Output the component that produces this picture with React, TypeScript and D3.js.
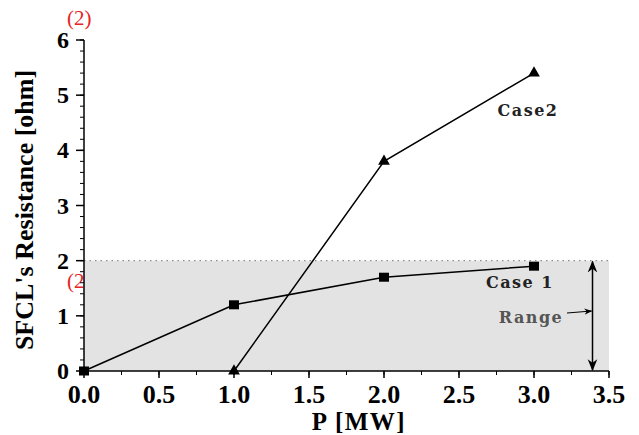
import React from "react";
import * as d3 from "d3";

const case1X = [0, 1, 2, 3];
const case1Y = [0, 1.2, 1.7, 1.9];
const case2X = [1, 2, 3];
const case2Y = [0, 3.8, 5.4];
const xTicks = [0, 0.5, 1, 1.5, 2, 2.5, 3, 3.5];
const yTicks = [0, 1, 2, 3, 4, 5, 6];
const rangeTop = 2;
const rangeX = 3.39;

const W = 639;
const H = 435;
const serif = "'Liberation Serif', 'Times New Roman', serif";
const book = "'DejaVu Serif', 'Liberation Serif', serif";

export default function App() {
  const x = d3.scaleLinear().domain([0, 3.5]).range([84, 609]);
  const y = d3.scaleLinear().domain([0, 6]).range([371, 40]);

  const line = d3
    .line<[number, number]>()
    .x((d) => x(d[0]))
    .y((d) => y(d[1]));

  const c1 = case1X.map((v, i) => [v, case1Y[i]] as [number, number]);
  const c2 = case2X.map((v, i) => [v, case2Y[i]] as [number, number]);

  const xMinor = d3.range(0, 3.5001, 0.25);
  const yMinor = d3.range(0, 6.0001, 0.2);
  const tri = d3.symbol().type(d3.symbolTriangle).size(60)();

  return (
    <svg
      width={W}
      height={H}
      style={{ position: "absolute", left: 0, top: 0, background: "#fff" }}
    >
      <defs>
        <marker id="ah" viewBox="0 0 10 10" refX="9" refY="5" markerWidth="8" markerHeight="8" orient="auto-start-reverse">
          <path d="M0,1 L10,5 L0,9 L3,5 Z" fill="#000" />
        </marker>
      </defs>

      <text x={67} y={25} fill="#e8231f" fontFamily={serif} fontSize={21}>(2)</text>
      <text x={67} y={288} fill="#e8231f" fontFamily={serif} fontSize={21}>(2</text>

      {/* range band */}
      <rect x={x(0)} y={y(rangeTop)} width={x(3.5) - x(0)} height={y(0) - y(rangeTop)} fill="#e3e3e3" />
      <line x1={x(0)} x2={x(3.5)} y1={y(rangeTop)} y2={y(rangeTop)} stroke="#777" strokeDasharray="1.5,4" />

      {/* axes */}
      <line x1={x(0)} x2={x(0)} y1={y(0)} y2={y(6)} stroke="#000" strokeWidth={1.5} />
      <line x1={x(0)} x2={x(3.5)} y1={y(0)} y2={y(0)} stroke="#000" strokeWidth={1.5} />
      {yMinor.map((t, i) => (
        <line key={"ym" + i} x1={x(0) - 4} x2={x(0)} y1={y(t)} y2={y(t)} stroke="#000" />
      ))}
      {yTicks.map((t) => (
        <g key={"y" + t}>
          <line x1={x(0) - 8} x2={x(0)} y1={y(t)} y2={y(t)} stroke="#000" strokeWidth={1.5} />
          <text x={x(0) - 15} y={y(t) + 8} textAnchor="end" fontFamily={serif} fontWeight="bold" fontSize={24}>{t}</text>
        </g>
      ))}
      {xMinor.map((t, i) => (
        <line key={"xm" + i} x1={x(t)} x2={x(t)} y1={y(0)} y2={y(0) + 4} stroke="#000" />
      ))}
      {xTicks.map((t) => (
        <g key={"x" + t}>
          <line x1={x(t)} x2={x(t)} y1={y(0)} y2={y(0) + 7} stroke="#000" strokeWidth={1.5} />
          <text x={x(t)} y={403} textAnchor="middle" fontFamily={serif} fontWeight="bold" fontSize={26}>{t.toFixed(1)}</text>
        </g>
      ))}

      <text x={359} y={430} textAnchor="middle" fontFamily={serif} fontWeight="bold" fontSize={25} letterSpacing={1.5}>P [MW]</text>
      <text transform="translate(33,210) rotate(-90)" textAnchor="middle" fontFamily={serif} fontWeight="bold" fontSize={26}>SFCL's Resistance [ohm]</text>

      {/* series */}
      <path d={line(c1) ?? ""} fill="none" stroke="#000" strokeWidth={1.5} />
      <path d={line(c2) ?? ""} fill="none" stroke="#000" strokeWidth={1.5} />
      {c1.map((d, i) => (
        <rect key={"s" + i} x={x(d[0]) - 5} y={y(d[1]) - 4.5} width={10} height={9} fill="#000" />
      ))}
      {c2.map((d, i) => (
        <path key={"t" + i} d={tri ?? ""} transform={`translate(${x(d[0])},${y(d[1])})`} fill="#000" />
      ))}

      {/* range arrow */}
      <line x1={x(rangeX)} x2={x(rangeX)} y1={y(rangeTop) + 1} y2={y(0) - 1} stroke="#000" strokeWidth={1.5} markerStart="url(#ah)" markerEnd="url(#ah)" />
      <line x1={567} y1={313} x2={x(rangeX) - 1} y2={311} stroke="#000" strokeWidth={1} markerEnd="url(#ah)" />

      <text x={531} y={323} textAnchor="middle" fontFamily={book} fontWeight="bold" fontSize={16} letterSpacing={1.5} fill="#555">Range</text>
      <text x={520} y={288} textAnchor="middle" fontFamily={book} fontWeight="bold" fontSize={16} letterSpacing={1.5} fill="#222">Case 1</text>
      <text x={528} y={116} textAnchor="middle" fontFamily={book} fontWeight="bold" fontSize={16} letterSpacing={1.5} fill="#222">Case2</text>
    </svg>
  );
}
